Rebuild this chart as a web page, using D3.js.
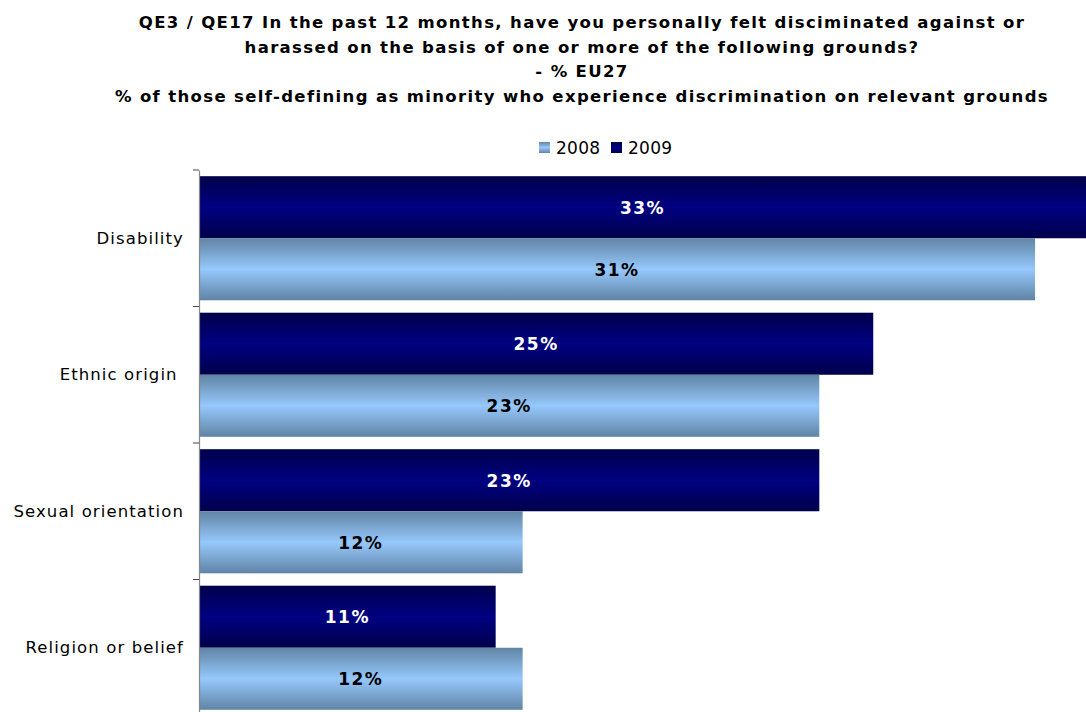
<!DOCTYPE html>
<html><head><meta charset="utf-8">
<script src="https://cdn.jsdelivr.net/npm/d3@7/dist/d3.min.js"></script>
<style>body{margin:0;background:#fff}svg{display:block}</style>
</head><body>
<svg id="c" width="1086" height="712"></svg>
<script>
const categories = ["Disability", "Ethnic origin ", "Sexual orientation", "Religion or belief"];
const series = ["2009", "2008"];
const values2009 = [33, 25, 23, 11];
const values2008 = [31, 23, 12, 12];
const titleLines = [
  "QE3 / QE17 In the past 12 months, have you personally felt disciminated against or",
  "harassed on the basis of one or more of the following grounds?",
  "- % EU27",
  "% of those self-defining as minority who experience discrimination on relevant grounds"
];
const legendLabels = ["2008", "2009"];

const svg = d3.select("#c");
const W = 1086, H = 712;
const font = "Verdana, 'DejaVu Sans', sans-serif";

const defs = svg.append("defs");
function grad(id, edge, mid) {
  const g = defs.append("linearGradient").attr("id", id).attr("x1", 0).attr("y1", 0).attr("x2", 0).attr("y2", 1);
  g.append("stop").attr("offset", "0%").attr("stop-color", edge);
  g.append("stop").attr("offset", "50%").attr("stop-color", mid);
  g.append("stop").attr("offset", "100%").attr("stop-color", edge);
}
grad("g2009", "#00004a", "#000082");
grad("g2008", "#6084a4", "#96c8fc");

// title
svg.append("g").selectAll("text").data(titleLines).join("text")
  .attr("x", 582).attr("y", (d, i) => 28 + i * 24.7)
  .attr("text-anchor", "middle").attr("font-family", font).attr("font-weight", "bold")
  .attr("font-size", 16.5).attr("letter-spacing", 1.35).attr("fill", "#000").text(d => d);

// legend
const leg = svg.append("g");
const legX = [539, 611];
legendLabels.forEach((l, i) => {
  leg.append("rect").attr("x", legX[i]).attr("y", 142).attr("width", 11).attr("height", 11)
    .attr("fill", l === "2008" ? "url(#g2008)" : "url(#g2009)");
  leg.append("text").attr("x", legX[i] + 17).attr("y", 154).attr("font-family", font)
    .attr("font-size", 17).attr("letter-spacing", 0.3).attr("fill", "#000").text(l);
});

const y = d3.scaleBand().domain(categories).range([170, 716]).paddingInner(0).paddingOuter(0);
const inner = d3.scaleBand().domain(series).range([0, y.bandwidth()]).paddingOuter(0.1).paddingInner(0);
const x = d3.scaleLinear().domain([0, 33]).range([199, 1089]);

const data = [];
categories.forEach((c, i) => {
  data.push({cat: c, s: "2009", v: values2009[i]});
  data.push({cat: c, s: "2008", v: values2008[i]});
});

const bars = svg.append("g");
bars.selectAll("rect").data(data).join("rect")
  .attr("x", x(0)).attr("y", d => y(d.cat) + inner(d.s))
  .attr("width", d => x(d.v) - x(0)).attr("height", inner.bandwidth())
  .attr("fill", d => d.s === "2009" ? "url(#g2009)" : "url(#g2008)");

bars.selectAll("text").data(data).join("text")
  .attr("x", d => (x(0) + Math.min(x(d.v), W)) / 2)
  .attr("y", d => y(d.cat) + inner(d.s) + inner.bandwidth() / 2 + 6.5)
  .attr("text-anchor", "middle").attr("font-family", font).attr("font-weight", "bold")
  .attr("font-size", 17).attr("letter-spacing", 1.5).attr("fill", d => d.s === "2009" ? "#fff" : "#000")
  .text(d => d.v + "%");

// axis
const axis = d3.axisLeft(y).tickSize(0).tickPadding(15);
const ag = svg.append("g").attr("transform", `translate(${x(0)},0)`).call(axis);
ag.select(".domain").attr("stroke", "#888").attr("stroke-width", 1.2);
ag.selectAll(".tick text").attr("font-family", font).attr("font-size", 16.5)
  .attr("letter-spacing", 1.1).attr("fill", "#000").style("white-space", "pre");
// boundary ticks
const bounds = categories.map(c => y(c)).concat([y.range()[1]]);
ag.selectAll(".bt").data(bounds).join("line").attr("class", "bt")
  .attr("x1", -6).attr("x2", 0).attr("y1", d => d).attr("y2", d => d)
  .attr("stroke", "#444").attr("stroke-width", 1);
</script>
</body></html>
